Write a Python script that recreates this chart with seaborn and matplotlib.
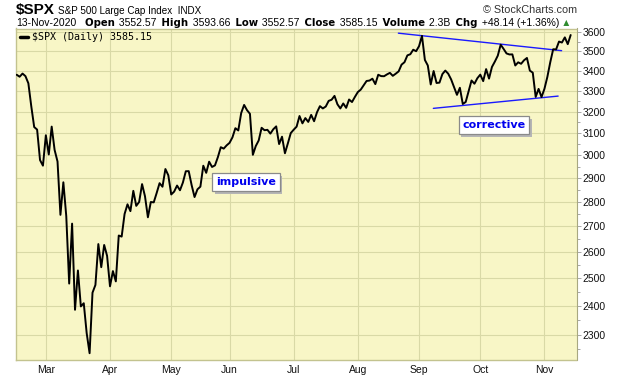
import numpy as np
import pandas as pd
import matplotlib
matplotlib.use("Agg")
import matplotlib.pyplot as plt
import matplotlib.patheffects as pe
from matplotlib.transforms import IdentityTransform
import seaborn as sns

# S&P 500 daily closes, 14-Feb-2020 .. 13-Nov-2020
closes = [
    3380.16, 3370.29, 3386.15, 3373.23, 3337.75, 3225.89, 3128.21, 3116.39, 2978.76, 2954.22,
    3090.23, 3003.37, 3130.12, 3023.94, 2972.37, 2746.56, 2882.23, 2741.38, 2480.64, 2711.02,
    2386.13, 2529.19, 2398.10, 2409.39, 2304.92, 2237.40, 2447.33, 2475.56, 2630.07, 2541.47,
    2626.65, 2584.59,
    2470.50, 2526.90, 2488.65, 2663.68, 2659.41, 2749.98, 2789.82, 2761.63, 2846.06, 2783.36,
    2799.55, 2874.56, 2823.16, 2736.56, 2799.31, 2797.80, 2836.74, 2878.48, 2863.39, 2939.51,
    2912.43,
    2830.71, 2842.74, 2868.44, 2848.42, 2881.19, 2929.80, 2930.32, 2870.12, 2820.00, 2852.50,
    2863.70, 2953.91, 2922.94, 2971.61, 2948.51, 2955.45, 2991.77, 3036.13, 3029.73, 3044.31,
    3055.73, 3080.82, 3122.87, 3112.35, 3193.93, 3232.39, 3207.18, 3190.14, 3002.10, 3041.31,
    3066.59, 3124.74, 3113.49, 3115.34, 3097.74, 3117.86, 3131.29, 3050.33, 3083.76, 3009.05,
    3053.24, 3100.29,
    3115.86, 3130.01, 3179.72, 3145.32, 3169.94, 3152.05, 3185.04, 3155.22, 3197.52, 3226.56,
    3215.57, 3224.73, 3251.84, 3257.30, 3276.02, 3235.66, 3215.63, 3239.41, 3218.44, 3258.44,
    3246.22, 3271.12,
    3294.61, 3306.51, 3327.77, 3349.16, 3351.28, 3360.47, 3333.69, 3380.35, 3373.43, 3372.85,
    3381.99, 3389.78, 3374.85, 3385.51, 3397.16, 3431.28, 3443.62, 3478.73, 3484.55, 3508.01,
    3500.31,
    3526.65, 3580.84, 3455.06, 3426.96, 3331.84, 3398.96, 3339.19, 3340.97, 3383.54, 3401.20,
    3385.49, 3357.01, 3319.47, 3281.06, 3315.57, 3236.92, 3246.59, 3298.46, 3351.60, 3335.47,
    3363.00,
    3380.80, 3348.42, 3408.60, 3360.97, 3419.44, 3446.83, 3477.14, 3534.22, 3511.93, 3488.67,
    3483.34, 3483.81, 3426.92, 3443.12, 3435.56, 3453.49, 3465.39, 3400.97, 3390.68, 3271.03,
    3310.11, 3269.96,
    3310.24, 3369.16, 3443.44, 3510.45, 3509.44, 3550.50, 3545.53, 3572.66, 3537.01, 3585.15,
]
holidays = ["2020-02-17", "2020-04-10", "2020-05-25", "2020-07-03", "2020-09-07"]
dates = pd.bdate_range("2020-02-14", "2020-11-13").drop(pd.to_datetime(holidays))

y_ticks = list(range(2300, 3700, 100))
y_minor = list(range(2250, 3650, 100))

# trend channel (trading-day index, price)
upper_x, upper_y = [130.9, 186.9], [3595, 3503]
lower_x, lower_y = [142.9, 185.7], [3216, 3275]
notes = [("impulsive", 78.6, 2884), ("corrective", 163.7, 3138)]

header_pieces = [
    ("13-Nov-2020", "r"), ("  Open", "b"), (" 3552.57", "r"), (" High", "b"), (" 3593.66", "r"),
    (" Low", "b"), (" 3552.57", "r"), (" Close", "b"), (" 3585.15", "r"),
    (" Volume", "b"), (" 2.3B", "r"), (" Chg", "b"), (" +48.14 (+1.36%)", "r"), (" \u25B2", "g"),
]

df = pd.DataFrame({"day": np.arange(len(closes)), "date": dates, "close": closes})
month_first = df.groupby(df["date"].dt.to_period("M"))["day"].first().iloc[1:]
month_labels = [p.strftime("%b") for p in month_first.index]

sns.set_theme(style="white")
plt.rcParams["font.family"] = ["Liberation Sans", "DejaVu Sans"]

BG = "#F8F6C6"
GRID = "#D9D9A6"
FRAME = "#C3C38F"

fig = plt.figure(figsize=(6.2, 3.76), dpi=100)
fig.patch.set_facecolor("white")
ax = fig.add_axes([16 / 620, 16 / 376, 560.5 / 620, 331.5 / 376])
ax.set_facecolor(BG)

sns.lineplot(data=df, x="day", y="close", ax=ax, color="black", lw=1.4,
             label="\\$SPX (Daily) 3585.15", zorder=3)

ax.plot(upper_x, upper_y, color="#1a1aff", lw=1.0, zorder=2)
ax.plot(lower_x, lower_y, color="#1a1aff", lw=1.0, zorder=2)

ax.set_yscale("log")
ax.set_ylim(2215, 3620)
ax.set_xlim(-0.24, 192.0)

ax.set_yticks(y_ticks)
ax.set_yticklabels([str(v) for v in y_ticks])
ax.set_yticks(y_minor, minor=True)
ax.yaxis.set_minor_formatter(matplotlib.ticker.NullFormatter())
ax.yaxis.tick_right()
ax.tick_params(axis="y", which="major", direction="out", length=3, width=0.6, color="#999999",
               labelsize=7.5, pad=1.5, labelcolor="#111111")
ax.tick_params(axis="y", which="minor", direction="out", length=2, width=0.6, color="#999999")

ax.set_xticks(month_first.values)
ax.set_xticklabels(month_labels)
ax.tick_params(axis="x", direction="out", length=2, width=0.6, color="#bbbbbb",
               labelsize=7.5, pad=1.5, labelcolor="#111111")
ax.set_xlabel("")
ax.set_ylabel("")

ax.grid(True, which="major", color=GRID, lw=0.8)
ax.set_axisbelow(True)
for side in ["left", "top", "bottom"]:
    ax.spines[side].set_color(FRAME)
    ax.spines[side].set_linewidth(1.0)
ax.spines["right"].set_color("#a8a880")
ax.spines["right"].set_linewidth(0.8)
ax.spines["right"].set_linestyle((0, (1, 1)))

leg = ax.legend(loc="upper left", frameon=False, handlelength=0.8, handletextpad=0.5,
                borderaxespad=0.15, borderpad=0.2, labelcolor="black",
                prop={"family": "DejaVu Sans Mono", "size": 7.2})
for line in leg.get_lines():
    line.set_linewidth(2.5)

for txt, xd, yd in notes:
    t = ax.text(xd, yd, txt, ha="center", va="center", color="#0000ee", fontweight="bold",
                fontsize=8, family="DejaVu Sans", zorder=5,
                bbox=dict(boxstyle="square,pad=0.35", fc="white", ec="#8a8a8a", lw=0.9))
    t.get_bbox_patch().set_path_effects(
        [pe.withSimplePatchShadow(offset=(2, -2), shadow_rgbFace="#b5b5b5", alpha=1.0)])

# header
fig.canvas.draw()
renderer = fig.canvas.get_renderer()
H = 376
ident = IdentityTransform()

t1 = fig.text(16, H - 14, "\\$SPX", transform=ident, fontweight="bold",
              fontsize=11, color="black", va="baseline")
w = t1.get_window_extent(renderer).width
fig.text(16 + w + 3, H - 13.5, "S&P 500 Large Cap Index  INDX", transform=ident,
         fontsize=7.1, color="black", va="baseline")
fig.text(577, H - 13, "\u00a9 StockCharts.com", transform=ident, fontsize=7.8, color="#333333",
         ha="right", va="baseline")

x = 16
for txt, kind in header_pieces:
    kw = dict(transform=ident, va="baseline", color="black")
    if kind == "b":
        kw.update(family="DejaVu Sans", fontweight="bold", fontsize=7.3)
    elif kind == "g":
        kw.update(family="DejaVu Sans", fontsize=5.5, color="#2e8b2e")
    else:
        kw.update(fontsize=7.5)
    t = fig.text(x, H - 25.5, txt, **kw)
    x += t.get_window_extent(renderer).width + 1.5

fig.savefig("out.png", dpi=100, facecolor="white")
